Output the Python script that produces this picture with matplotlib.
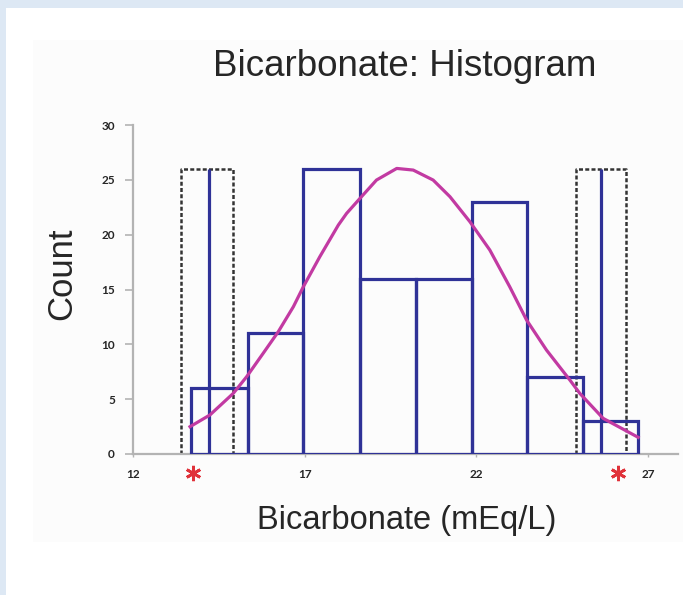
import numpy as np
import matplotlib.pyplot as plt
from matplotlib.patches import Rectangle

# histogram bins (mEq/L) and counts
bin_edges = [13.7, 15.34, 16.96, 18.61, 20.24, 21.86, 23.46, 25.09, 26.71]
counts = [6, 11, 26, 16, 16, 23, 7, 3]

# single tall bars marking the extreme values
spike_x = [14.22, 25.62]
spike_h = 26

# dashed boxes around the extremes
box_left = [13.40, 24.90]
box_right = [14.92, 26.37]
box_h = 26

# red asterisks under the axis
star_x = [13.74, 26.12]

# fitted curve
curve_x = [13.66, 14.24, 14.92, 15.31, 15.79, 16.23, 16.67, 16.96, 17.44, 17.98,
           18.22, 18.61, 19.09, 19.68, 20.16, 20.74, 21.23, 21.81, 22.39, 22.97,
           23.46, 24.04, 24.72, 25.01, 25.69, 26.71]
curve_y = [2.49, 3.56, 5.53, 7.05, 9.18, 11.15, 13.43, 15.25, 17.99, 20.88,
           21.94, 23.31, 24.98, 26.04, 25.89, 24.98, 23.46, 21.18, 18.60, 15.25,
           12.22, 9.48, 6.75, 5.53, 3.25, 1.52]

x_ticks = [12, 17, 22, 27]
y_ticks = [0, 5, 10, 15, 20, 25, 30]

W, H = 683, 595
fig = plt.figure(figsize=(W / 100, H / 100), dpi=100, facecolor='#dde8f4')

# white card and faint plot panel
fig.patches.append(Rectangle((6 / W, 0), 1 - 6 / W, 1 - 8 / H, transform=fig.transFigure,
                             facecolor='white', edgecolor='none', zorder=-3))
fig.patches.append(Rectangle((33 / W, 1 - 542 / H), (683 - 33) / W, (542 - 40) / H,
                             transform=fig.transFigure, facecolor='#fcfcfc',
                             edgecolor='none', zorder=-2))

ax = fig.add_axes([133 / W, 1 - 454 / H, (678 - 133) / W, (454 - 125) / H])
ax.set_facecolor('none')

blue = '#2f3297'
widths = np.diff(bin_edges)
ax.bar(bin_edges[:-1], counts, width=widths, align='edge', fill=False,
       edgecolor=blue, linewidth=2.3, joinstyle='miter', zorder=3)
ax.vlines(spike_x, 0, spike_h, color=blue, linewidth=2.3, zorder=3)

for x0, x1 in zip(box_left, box_right):
    ax.plot([x0, x0, x1, x1], [0, box_h, box_h, 0], color='#333333',
            linewidth=1.8, linestyle=(0, (1.6, 0.9)), zorder=2)

ax.plot(curve_x, curve_y, color='#c23aa2', linewidth=2.3, zorder=4,
        solid_joinstyle='round')

ax.plot(star_x, [-1.75, -1.75], linestyle='none', marker=(6, 2, 0), markersize=11,
        markeredgewidth=2, color='#e0323a', clip_on=False, zorder=5)

ax.set_xlim(12, 27.87)
ax.set_ylim(0, 30)
ax.set_xticks(x_ticks)
ax.set_yticks(y_ticks)

for s in ['top', 'right']:
    ax.spines[s].set_visible(False)
for s in ['left', 'bottom']:
    ax.spines[s].set_color('#b3b3b3')
    ax.spines[s].set_linewidth(1.6)

ax.tick_params(axis='y', length=6, width=1.2, color='#b3b3b3', pad=7)
ax.tick_params(axis='x', length=2.5, width=1.0, color='#b3b3b3', pad=8)
for lab in ax.get_xticklabels() + ax.get_yticklabels():
    lab.set_fontfamily('Lato')
    lab.set_fontweight('bold')
    lab.set_fontsize(8.5)
    lab.set_color('#262626')

fig.text(405 / W, 1 - 66 / H, 'Bicarbonate: Histogram', ha='center', va='center',
         fontsize=26.5, family='Liberation Sans', color='#262626')
fig.text(407 / W, 1 - 521 / H, 'Bicarbonate (mEq/L)', ha='center', va='center',
         fontsize=23.5, family='Liberation Sans', color='#262626')
fig.text(62 / W, 1 - 274 / H, 'Count', ha='center', va='center', rotation=90,
         fontsize=25, family='Liberation Sans', color='#262626')

fig.savefig('out.png', dpi=100, facecolor=fig.get_facecolor())
